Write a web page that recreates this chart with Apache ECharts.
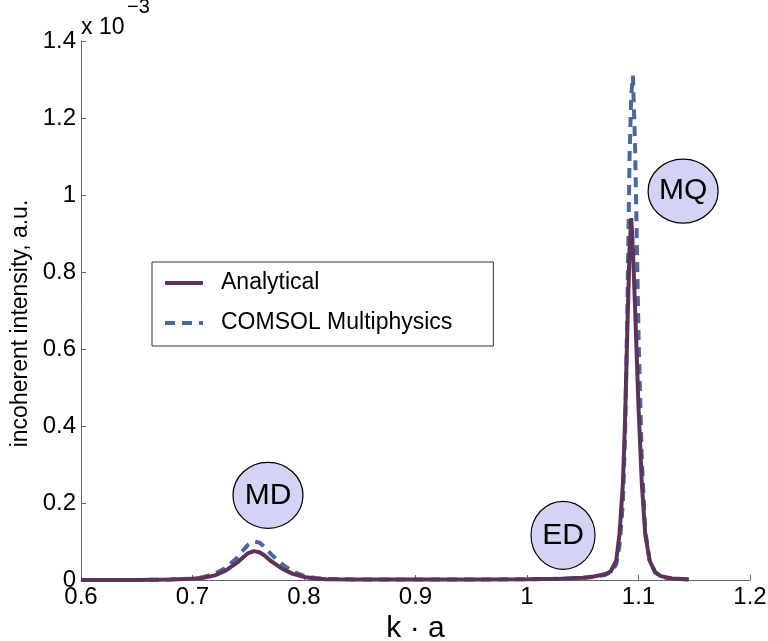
<!DOCTYPE html>
<html>
<head>
<meta charset="utf-8">
<script src="https://cdn.jsdelivr.net/npm/echarts@6/dist/echarts.min.js"></script>
<style>
  html, body { margin: 0; padding: 0; background: #fff; overflow: hidden; }
  #chart { position: absolute; left: 0; top: 0; width: 768px; height: 641px; }
</style>
</head>
<body>
<div id="chart"></div>
<script>
// k*a 取值
var kaValues = [0.60, 0.65, 0.68, 0.70, 0.71, 0.72, 0.73, 0.74, 0.745, 0.75, 0.755, 0.76, 0.765, 0.77, 0.78, 0.79, 0.80, 0.81, 0.82, 0.85, 0.90, 0.95, 1.00, 1.03, 1.05, 1.06, 1.07, 1.075, 1.08, 1.083, 1.086, 1.088, 1.09, 1.092, 1.0935, 1.095, 1.097, 1.10, 1.103, 1.106, 1.11, 1.115, 1.12, 1.13, 1.145];
// 强度 (x 10^-3)
var analytical = [0, 0, 0.001, 0.003, 0.006, 0.012, 0.025, 0.045, 0.058, 0.070, 0.075, 0.072, 0.063, 0.050, 0.030, 0.016, 0.008, 0.004, 0.002, 0.001, 0.001, 0.001, 0.002, 0.003, 0.006, 0.009, 0.015, 0.022, 0.05, 0.12, 0.25, 0.42, 0.65, 0.86, 0.94, 0.86, 0.70, 0.45, 0.25, 0.12, 0.05, 0.02, 0.01, 0.004, 0.002];
var comsol = [0, 0, 0.001, 0.004, 0.008, 0.016, 0.032, 0.058, 0.076, 0.092, 0.100, 0.097, 0.085, 0.068, 0.042, 0.022, 0.011, 0.005, 0.003, 0.001, 0.001, 0.001, 0.002, 0.003, 0.005, 0.008, 0.013, 0.02, 0.04, 0.09, 0.2, 0.38, 0.70, 1.10, 1.26, 1.31, 1.12, 0.64, 0.31, 0.13, 0.05, 0.02, 0.008, 0.003, 0.001];
// 标注
var peakNames = ['MD', 'ED', 'MQ'];
var peakX = [0.7677, 1.0323, 1.14];
var peakY = [0.22, 0.116, 1.01];

function pairs(xs, ys) {
    var out = [];
    for (var i = 0; i < xs.length; i++) {
        out.push([xs[i], ys[i]]);
    }
    return out;
}

var myChart = echarts.init(document.getElementById('chart'));
var font = 'Liberation Sans, Arial, sans-serif';

var peakData = [];
var peakSizes = [[70, 66], [64, 68], [70, 64]];
for (var i = 0; i < peakNames.length; i++) {
    peakData.push({
        name: peakNames[i],
        value: [peakX[i], peakY[i]],
        symbolSize: peakSizes[i]
    });
}

var option = {
    animation: false,
    grid: {
        left: 81,
        right: 18,
        top: 41,
        bottom: 61,
        outerBoundsMode: 'none'
    },
    legend: {
        data: ['Analytical', 'COMSOL Multiphysics'],
        orient: 'vertical',
        left: 152,
        top: 262,
        padding: [9, 41, 11, 11],
        itemWidth: 38,
        itemHeight: 14,
        itemGap: 16,
        borderColor: '#333',
        borderWidth: 1,
        itemStyle: { opacity: 0 },
        lineStyle: { width: 4 },
        textStyle: {
            fontFamily: font,
            fontSize: 23,
            color: '#000',
            lineHeight: 24,
            padding: [0, 0, 0, 13]
        }
    },
    xAxis: {
        type: 'value',
        min: 0.6,
        max: 1.2,
        interval: 0.1,
        name: 'k · a',
        nameLocation: 'middle',
        nameGap: 30,
        nameTextStyle: {
            fontFamily: font,
            fontSize: 30,
            color: '#000'
        },
        axisLine: { lineStyle: { color: '#666', width: 1 } },
        axisTick: { inside: true, length: 5, lineStyle: { color: '#666' } },
        axisLabel: {
            fontFamily: font,
            fontSize: 24,
            color: '#000',
            margin: 5
        },
        splitLine: { show: false }
    },
    yAxis: {
        type: 'value',
        min: 0,
        max: 1.4,
        interval: 0.2,
        name: 'incoherent intensity, a.u.',
        nameLocation: 'middle',
        nameGap: 45,
        nameTextStyle: {
            fontFamily: font,
            fontSize: 23,
            color: '#000',
            padding: [0, 26, 0, 0]
        },
        axisLine: { show: true, lineStyle: { color: '#666', width: 1 } },
        axisTick: { show: true, inside: true, length: 5, lineStyle: { color: '#666' } },
        axisLabel: {
            fontFamily: font,
            fontSize: 24,
            color: '#000',
            margin: 5
        },
        splitLine: { show: false }
    },
    graphic: [
        {
            type: 'text',
            left: 81,
            top: 16,
            style: { text: 'x 10', font: '23px Liberation Sans, Arial, sans-serif', fill: '#000' }
        },
        {
            type: 'text',
            left: 127,
            top: -3,
            style: { text: '−3', font: '20px Liberation Sans, Arial, sans-serif', fill: '#000' }
        }
    ],
    series: [
        {
            name: 'Analytical',
            type: 'line',
            symbol: 'none',
            z: 3,
            lineStyle: { color: '#5c3458', width: 4 },
            itemStyle: { color: '#5c3458' },
            data: pairs(kaValues, analytical)
        },
        {
            name: 'COMSOL Multiphysics',
            type: 'line',
            symbol: 'none',
            z: 2,
            lineStyle: { color: '#4a68a0', width: 4, type: [10, 7] },
            itemStyle: { color: '#4a68a0' },
            data: pairs(kaValues, comsol)
        },
        {
            name: 'peaks',
            type: 'scatter',
            symbol: 'circle',
            z: 4,
            silent: true,
            itemStyle: {
                color: '#d3d3f6',
                borderColor: '#000',
                borderWidth: 1.2,
                opacity: 1
            },
            label: {
                show: true,
                position: 'inside',
                formatter: '{b}',
                fontFamily: font,
                fontSize: 30,
                color: '#000',
                textBorderWidth: 0
            },
            data: peakData
        }
    ]
};
myChart.setOption(option);
</script>
</body>
</html>
